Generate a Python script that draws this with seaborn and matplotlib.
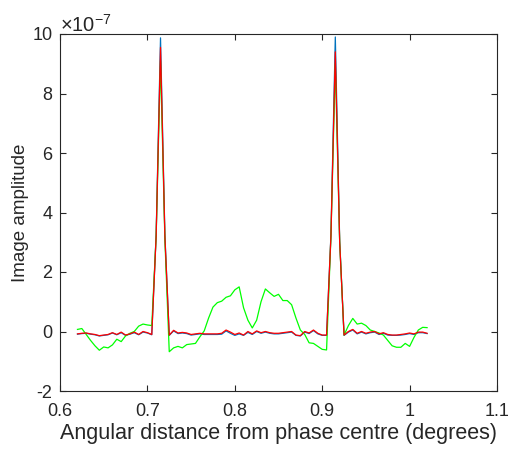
import numpy as np
import pandas as pd
import matplotlib
matplotlib.use("Agg")
import matplotlib.pyplot as plt
import seaborn as sns

# ---- data (amplitude in units of 1e-7) ----
x_start = 0.62
x_step = 0.005
n_pts = 81
angle = [round(x_start + x_step * i, 4) for i in range(n_pts)]

green = [0.07, 0.10, -0.10, -0.30, -0.48, -0.63, -0.52, -0.55, -0.45, -0.26,
         -0.34, -0.15, -0.06, 0.00, 0.18, 0.25, 0.22, 0.20, 3.20, 9.10,
         3.10, -0.68, -0.55, -0.50, -0.55, -0.44, -0.42, -0.40, -0.18, 0.02,
         0.45, 0.82, 0.97, 1.02, 1.15, 1.20, 1.40, 1.50, 0.80, 0.38,
         0.12, 0.38, 1.00, 1.43, 1.30, 1.18, 1.25, 1.04, 1.04, 0.90,
         0.45, 0.05, -0.10, -0.38, -0.40, -0.50, -0.60, -0.62, 3.20, 9.00,
         3.00, -0.12, 0.20, 0.44, 0.25, 0.28, 0.20, 0.05, 0.00, -0.05,
         -0.12, -0.30, -0.48, -0.53, -0.53, -0.40, -0.50, -0.20, 0.05, 0.14,
         0.13]

red = [-0.08, -0.06, -0.05, -0.08, -0.10, -0.14, -0.12, -0.10, -0.04, -0.10,
       -0.02, -0.12, -0.08, -0.02, -0.10, 0.00, -0.04, -0.10, 3.20, 9.55,
       3.20, -0.12, 0.04, -0.05, -0.03, -0.05, -0.10, -0.08, -0.06, -0.08,
       -0.08, -0.08, -0.08, -0.06, 0.05, -0.02, -0.10, -0.05, -0.12, 0.00,
       -0.08, 0.02, -0.04, 0.00, -0.04, -0.06, -0.06, -0.04, -0.02, 0.00,
       -0.12, -0.14, 0.00, -0.05, 0.05, -0.06, -0.12, -0.12, 3.20, 9.40,
       3.00, -0.12, 0.00, 0.07, -0.06, 0.00, -0.06, -0.02, 0.00, -0.08,
       -0.04, -0.10, -0.12, -0.12, -0.10, -0.08, -0.05, -0.08, -0.02, -0.02,
       -0.06]

blue = [-0.09, -0.07, -0.06, -0.09, -0.11, -0.15, -0.13, -0.11, -0.05, -0.11,
        -0.04, -0.13, -0.09, -0.04, -0.11, -0.02, -0.05, -0.11, 3.25, 9.87,
        3.25, -0.13, 0.02, -0.07, -0.05, -0.07, -0.12, -0.10, -0.08, -0.10,
        -0.10, -0.10, -0.10, -0.09, 0.02, -0.06, -0.13, -0.08, -0.13, -0.03,
        -0.10, 0.00, -0.06, -0.02, -0.06, -0.08, -0.08, -0.06, -0.04, -0.02,
        -0.13, -0.15, -0.02, -0.07, 0.03, -0.08, -0.13, -0.13, 3.25, 9.90,
        3.05, -0.13, -0.02, 0.05, -0.08, -0.02, -0.08, -0.04, -0.02, -0.10,
        -0.06, -0.12, -0.13, -0.13, -0.12, -0.10, -0.07, -0.10, -0.04, -0.04,
        -0.07]

xticks = [0.6, 0.7, 0.8, 0.9, 1.0, 1.1]
xtick_labels = ["0.6", "0.7", "0.8", "0.9", "1", "1.1"]
yticks = [-2, 0, 2, 4, 6, 8, 10]
ytick_labels = ["-2", "0", "2", "4", "6", "8", "10"]

df = pd.DataFrame({"angle": angle, "blue": blue, "red": red, "green": green})

plt.rcParams["font.family"] = ["Liberation Sans", "DejaVu Sans"]
plt.rcParams["mathtext.fontset"] = "custom"
plt.rcParams["mathtext.rm"] = "Liberation Sans"
plt.rcParams["mathtext.it"] = "Liberation Sans"
plt.rcParams["axes.unicode_minus"] = False

fig = plt.figure(figsize=(5.10, 4.49), dpi=100)
ax = fig.add_axes([60 / 510, 58 / 449, 437 / 510, 357 / 449])

lw = 0.9
sns.lineplot(data=df, x="angle", y="blue", color="#0072BD", lw=lw, ax=ax, estimator=None)
sns.lineplot(data=df, x="angle", y="green", color="#00FF00", lw=lw, ax=ax, estimator=None)
sns.lineplot(data=df, x="angle", y="red", color="#FF0000", lw=lw, ax=ax, estimator=None)

ax.set_xlim(0.6, 1.1)
ax.set_ylim(-2, 10)
ax.set_xticks(xticks)
ax.set_xticklabels(xtick_labels)
ax.set_yticks(yticks)
ax.set_yticklabels(ytick_labels)

axis_col = "#262626"
for s in ax.spines.values():
    s.set_color(axis_col)
    s.set_linewidth(0.8)
ax.tick_params(direction="in", length=4.5, width=0.8, colors=axis_col,
               labelsize=13, top=True, right=True, labelcolor=axis_col)
ax.tick_params(axis="x", pad=9)
ax.tick_params(axis="y", pad=5.5)

ax.set_xlabel("Angular distance from phase centre (degrees)", fontsize=15.5,
              color=axis_col, labelpad=2)
ax.set_ylabel("Image amplitude", fontsize=13.5, color=axis_col, labelpad=2)

ax.text(0.0, 0.995, r"$\times10^{-7}$", transform=ax.transAxes, fontsize=14.5,
        color=axis_col, ha="left", va="bottom")

fig.savefig("out.png", dpi=100)
